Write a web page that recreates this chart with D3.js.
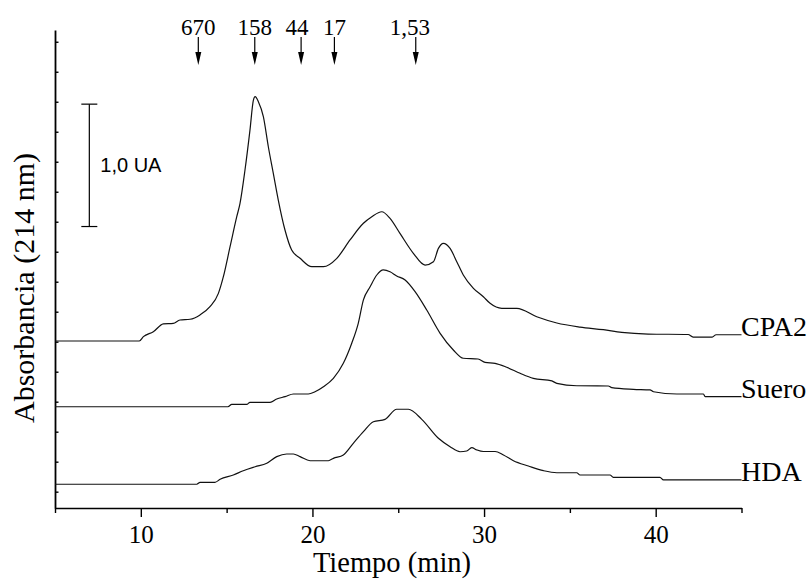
<!DOCTYPE html>
<html>
<head>
<meta charset="utf-8">
<script src="https://cdn.jsdelivr.net/npm/d3@7"></script>
<style>
  html, body { margin: 0; padding: 0; background: #fff; }
  svg { display: block; }
</style>
</head>
<body>
<svg id="chart" width="811" height="580"></svg>
<script>
// ---------- DATA ----------
const xTitle = "Tiempo (min)";
const yTitle = "Absorbancia (214 nm)";
const xDomain = [5, 45];
const yDomain = [-0.136, 3.848];
const xMajorTicks = [10, 20, 30, 40];
const xMinorTicks = [5, 15, 25, 35, 45];
const yTicks = [0, 0.25, 0.5, 0.75, 1, 1.25, 1.5, 1.75, 2, 2.25, 2.5, 2.75, 3, 3.25, 3.5, 3.75];

// molecular-weight markers (kDa) and their elution times
const markerLabels = ["670", "158", "44", "17", "1,53"];
const markerTimes = [13.35, 16.64, 19.34, 21.28, 26.02];

// scale bar
const scaleBarLabel = "1,0 UA";
const scaleBarTime = 7.0;
const scaleBarRange = [2.21, 3.23];

const seriesNames = ["CPA2", "Suero", "HDA"];

const cpa2Time = [5.00, 9.91, 10.15, 10.73, 11.31, 11.89, 12.28, 12.87, 13.45, 14.03, 14.52, 14.81, 15.20, 15.59, 15.78, 16.07, 16.36, 16.56, 16.66, 16.85, 17.14, 17.43, 17.72, 18.01, 18.40, 18.79, 19.28, 19.96, 20.64, 21.42, 22.19, 22.97, 23.46, 24.04, 24.52, 25.10, 25.88, 26.56, 27.05, 27.34, 27.63, 28.02, 28.41, 28.79, 29.38, 29.96, 30.35, 31.03, 31.91, 33.07, 34.24, 35.59, 36.95, 38.02, 39.56, 41.89, 42.18, 43.29, 43.52, 45.00];
const cpa2Abs  = [1.256, 1.256, 1.292, 1.333, 1.398, 1.403, 1.431, 1.437, 1.473, 1.542, 1.653, 1.792, 2.042, 2.292, 2.403, 2.681, 3.014, 3.264, 3.292, 3.250, 3.125, 2.875, 2.653, 2.431, 2.181, 2.014, 1.945, 1.875, 1.875, 1.945, 2.098, 2.237, 2.292, 2.333, 2.278, 2.153, 1.987, 1.889, 1.917, 2.028, 2.070, 2.028, 1.917, 1.806, 1.695, 1.625, 1.570, 1.528, 1.528, 1.458, 1.406, 1.372, 1.350, 1.328, 1.314, 1.310, 1.289, 1.289, 1.308, 1.308];

const sueroTime = [5.00, 15.08, 15.30, 16.17, 16.36, 17.53, 17.92, 18.41, 18.89, 19.76, 20.15, 20.64, 21.22, 21.80, 22.29, 22.67, 22.97, 23.36, 23.75, 24.13, 24.52, 24.91, 25.40, 25.98, 26.66, 27.44, 28.21, 28.79, 29.65, 30.06, 30.64, 31.32, 32.10, 32.87, 33.95, 34.24, 35.40, 37.24, 37.44, 38.70, 39.67, 39.87, 41.23, 42.78, 42.88, 45.00];
const sueroAbs  = [0.708, 0.708, 0.728, 0.728, 0.745, 0.745, 0.773, 0.792, 0.814, 0.814, 0.833, 0.875, 0.945, 1.070, 1.237, 1.403, 1.598, 1.708, 1.806, 1.848, 1.833, 1.798, 1.764, 1.667, 1.514, 1.320, 1.181, 1.112, 1.106, 1.078, 1.070, 1.037, 0.987, 0.945, 0.923, 0.903, 0.883, 0.881, 0.867, 0.853, 0.848, 0.833, 0.814, 0.814, 0.792, 0.792];

const hdaTime = [5.00, 13.26, 13.45, 14.32, 14.62, 15.39, 15.97, 16.66, 17.34, 17.92, 18.50, 18.89, 19.28, 19.86, 20.93, 21.22, 21.80, 22.38, 22.97, 23.55, 24.23, 24.91, 25.59, 26.37, 27.34, 28.02, 28.60, 28.99, 29.28, 29.58, 29.96, 30.64, 31.13, 31.71, 32.58, 33.46, 34.24, 35.40, 35.59, 37.34, 37.53, 40.25, 40.45, 45.00];
const hdaAbs  = [0.062, 0.062, 0.078, 0.078, 0.103, 0.139, 0.175, 0.208, 0.237, 0.292, 0.314, 0.314, 0.292, 0.258, 0.258, 0.278, 0.306, 0.403, 0.500, 0.583, 0.603, 0.687, 0.687, 0.603, 0.445, 0.375, 0.333, 0.339, 0.367, 0.348, 0.335, 0.335, 0.306, 0.258, 0.214, 0.175, 0.158, 0.158, 0.139, 0.139, 0.120, 0.120, 0.098, 0.098];

// ---------- DRAW ----------
const svg = d3.select("#chart");
const serif = "'Liberation Serif', 'Times New Roman', Times, serif";
const sans = "'Liberation Sans', Arial, Helvetica, sans-serif";

const x = d3.scaleLinear().domain(xDomain).range([55, 741.5]);
const y = d3.scaleLinear().domain(yDomain).range([508, 30]);

// x axis (major)
const gx = svg.append("g").attr("transform", `translate(0,${y.range()[0]})`)
  .call(d3.axisBottom(x).tickValues(xMajorTicks).tickSize(9).tickSizeOuter(0).tickFormat(d3.format("d")));
gx.select(".domain").attr("stroke", "#000").attr("stroke-width", 1.6);
gx.selectAll(".tick line").attr("stroke", "#000").attr("stroke-width", 1.4);
gx.selectAll(".tick text").attr("font-family", serif).attr("font-size", 25).attr("fill", "#000").attr("dy", 0).attr("y", 35);

// x axis (minor)
const gxm = svg.append("g").attr("transform", `translate(0,${y.range()[0]})`)
  .call(d3.axisBottom(x).tickValues(xMinorTicks).tickSize(5).tickSizeOuter(0).tickFormat(""));
gxm.select(".domain").remove();
gxm.selectAll(".tick line").attr("stroke", "#000").attr("stroke-width", 1.4);

// y axis
const gy = svg.append("g").attr("transform", `translate(${x.range()[0]},0)`)
  .call(d3.axisLeft(y).tickValues(yTicks).tickSize(-3.5).tickSizeOuter(0).tickFormat(""));
gy.select(".domain").attr("stroke", "#000").attr("stroke-width", 1.8);
gy.selectAll(".tick line").attr("stroke", "#000").attr("stroke-width", 1.4);

// axis titles
svg.append("text")
  .attr("x", 392)
  .attr("y", 572)
  .attr("text-anchor", "middle")
  .attr("font-family", serif).attr("font-size", 28.5).attr("fill", "#000")
  .text(xTitle);

svg.append("text")
  .attr("transform", `translate(34,288) rotate(-90)`)
  .attr("text-anchor", "middle")
  .attr("font-family", serif).attr("font-size", 30).attr("fill", "#000")
  .text(yTitle);

// series
const series = [
  { name: seriesNames[0], t: cpa2Time, a: cpa2Abs },
  { name: seriesNames[1], t: sueroTime, a: sueroAbs },
  { name: seriesNames[2], t: hdaTime, a: hdaAbs }
];
const line = d3.line().x(d => x(d[0])).y(d => y(d[1])).curve(d3.curveMonotoneX);
series.forEach(s => {
  const pts = s.t.map((t, i) => [t, s.a[i]]);
  svg.append("path").datum(pts)
    .attr("d", line)
    .attr("fill", "none").attr("stroke", "#111").attr("stroke-width", 1.2);
  const last = pts[pts.length - 1];
  svg.append("text")
    .attr("x", x(last[0]) - 0.5)
    .attr("y", y(last[1]) + 1.5)
    .attr("font-family", serif).attr("font-size", 28).attr("fill", "#000")
    .text(s.name);
});

// marker arrows
const labelDx = [0, 0, -4, 0, -6];
markerTimes.forEach((t, i) => {
  const cx = x(t);
  svg.append("line").attr("x1", cx).attr("x2", cx).attr("y1", 37).attr("y2", 53)
    .attr("stroke", "#000").attr("stroke-width", 1.2);
  svg.append("path")
    .attr("d", `M${cx - 3},52 L${cx + 3},52 L${cx},65 Z`)
    .attr("fill", "#000");
  svg.append("text")
    .attr("x", cx + labelDx[i]).attr("y", 35)
    .attr("text-anchor", "middle")
    .attr("font-family", serif).attr("font-size", 23).attr("fill", "#000")
    .text(markerLabels[i]);
});

// scale bar
const sbx = x(scaleBarTime);
const sbTop = y(scaleBarRange[1]), sbBot = y(scaleBarRange[0]);
svg.append("line").attr("x1", sbx).attr("x2", sbx).attr("y1", sbTop).attr("y2", sbBot)
  .attr("stroke", "#000").attr("stroke-width", 1.2);
[sbTop, sbBot].forEach(yy => {
  svg.append("line").attr("x1", sbx - 8).attr("x2", sbx + 8).attr("y1", yy).attr("y2", yy)
    .attr("stroke", "#000").attr("stroke-width", 1.2);
});
svg.append("text")
  .attr("x", sbx + 11).attr("y", (sbTop + sbBot) / 2 + 7)
  .attr("font-family", sans).attr("font-size", 20).attr("fill", "#000")
  .text(scaleBarLabel);
</script>
</body>
</html>
